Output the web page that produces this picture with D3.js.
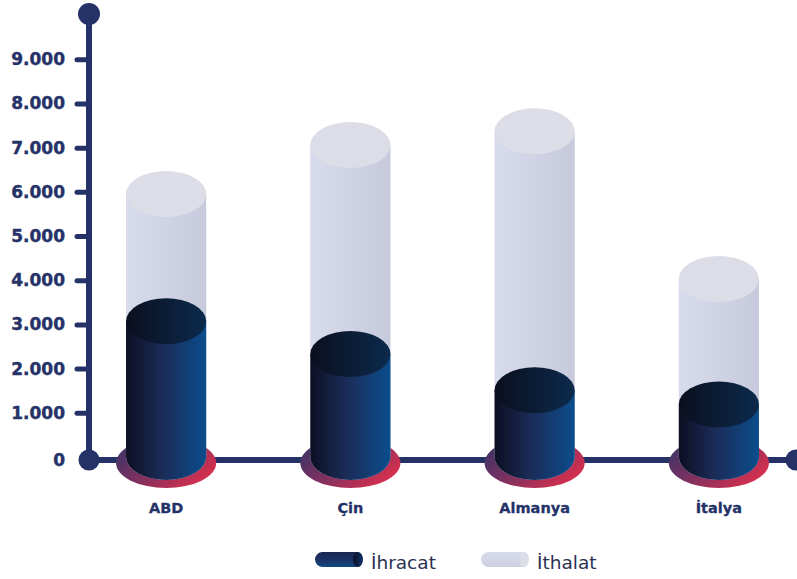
<!DOCTYPE html>
<html>
<head>
<meta charset="utf-8">
<script src="https://cdn.jsdelivr.net/npm/d3@7"></script>
<style>
  html, body { margin: 0; padding: 0; background: #ffffff; }
  svg { display: block; }
</style>
</head>
<body>
<svg id="chart" width="797" height="579"></svg>
<script>
// Country names, export / import values and y-axis ticks
const categories = ["ABD", "Çin", "Almanya", "İtalya"];
const ihracat = [3070, 2330, 1510, 1190];
const ithalat = [5950, 7060, 7370, 4030];
const tickValues = [0, 1000, 2000, 3000, 4000, 5000, 6000, 7000, 8000, 9000];
const seriesNames = ["İhracat", "İthalat"];

const NAVY = "#253268";
const W = 797, H = 579;
const svg = d3.select("#chart");

const trLocale = d3.formatLocale({ decimal: ",", thousands: ".", grouping: [3], currency: ["", "₺"] });
const fmt = trLocale.format(",d");

const x = d3.scaleBand().domain(categories).range([74, 811]).padding(0);
const y = d3.scaleLinear().domain([0, 9000]).range([457, 59.3]);

const cylW = x.bandwidth() * 0.435;
const rx = cylW / 2, ry = 23;
const baseY = y(0) + 3; // axis baseline

// gradients
const defs = svg.append("defs");
function lin(id, stops, x1 = 0, y1 = 0, x2 = 1, y2 = 0) {
  const g = defs.append("linearGradient").attr("id", id)
    .attr("x1", x1).attr("y1", y1).attr("x2", x2).attr("y2", y2);
  stops.forEach(([o, c]) => g.append("stop").attr("offset", o).attr("stop-color", c));
}
lin("darkBody", [[0, "#0c0f22"], [0.45, "#1b2c58"], [1, "#0b4d8c"]]);
lin("darkTop", [[0, "#0a0f1f"], [1, "#0c2a4c"]]);
lin("lightBody", [[0, "#d8dbec"], [1, "#c7cadc"]]);
lin("lightTop", [[0, "#dcdde6"], [1, "#dcdde6"]]);
lin("disc", [[0, "#3a3468"], [0.5, "#8a305e"], [1, "#e2304b"]], 0, 0.2, 1, 0.8);
lin("legDark", [[0, "#1a2550"], [0.6, "#1b3468"], [1, "#0d4a86"]], 0, 0, 0, 1);
lin("legDarkEnd", [[0, "#0b1024"], [1, "#11306a"]], 0, 0, 1, 0);
lin("legLight", [[0, "#d8dbec"], [1, "#cdd0e1"]], 0, 0, 0, 1);

// x axis line
svg.append("line")
  .attr("x1", 89).attr("x2", W + 10).attr("y1", baseY).attr("y2", baseY)
  .attr("stroke", NAVY).attr("stroke-width", 6);

// base discs under each column
svg.append("g").selectAll("ellipse").data(categories).join("ellipse")
  .attr("cx", d => x(d) + x.bandwidth() / 2)
  .attr("cy", baseY + 3)
  .attr("rx", rx + 10).attr("ry", ry + 2)
  .attr("fill", "url(#disc)");

function cylinderPath(cx, yTop, yBot) {
  const x0 = cx - rx, x1 = cx + rx;
  return `M${x0},${yTop} L${x0},${yBot} A${rx},${ry} 0 0 0 ${x1},${yBot} L${x1},${yTop} Z`;
}

function drawCylinders(values, bodyFill, topFill, cls) {
  const g = svg.append("g").attr("class", cls);
  const items = categories.map((c, i) => ({ c, v: values[i] }));
  g.selectAll("path").data(items).join("path")
    .attr("d", d => cylinderPath(x(d.c) + x.bandwidth() / 2, y(d.v), y(0)))
    .attr("fill", bodyFill);
  g.selectAll("ellipse").data(items).join("ellipse")
    .attr("cx", d => x(d.c) + x.bandwidth() / 2)
    .attr("cy", d => y(d.v))
    .attr("rx", rx).attr("ry", ry)
    .attr("fill", topFill);
}

drawCylinders(ithalat, "url(#lightBody)", "url(#lightTop)", "ithalat");
drawCylinders(ihracat, "url(#darkBody)", "url(#darkTop)", "ihracat");

// y axis
svg.append("line")
  .attr("x1", 89).attr("x2", 89).attr("y1", 14).attr("y2", baseY)
  .attr("stroke", NAVY).attr("stroke-width", 6);

const yAxis = d3.axisLeft(y).tickValues(tickValues.filter(v => v > 0))
  .tickSize(12).tickPadding(12).tickFormat(fmt);
const ga = svg.append("g").attr("transform", "translate(89,0)").call(yAxis);
ga.select(".domain").remove();
ga.selectAll(".tick line").attr("stroke", NAVY).attr("stroke-width", 5).attr("stroke-linecap", "round");
ga.selectAll(".tick text")
  .attr("fill", NAVY)
  .attr("font-family", "'DejaVu Sans', sans-serif")
  .attr("font-weight", "bold")
  .attr("font-size", 17)
  .attr("stroke", NAVY).attr("stroke-width", 0.4);

// zero label at the baseline
svg.append("text")
  .attr("x", 65).attr("y", baseY).attr("dy", "0.35em")
  .attr("text-anchor", "end")
  .attr("fill", NAVY)
  .attr("stroke", NAVY).attr("stroke-width", 0.4)
  .attr("font-family", "'DejaVu Sans', sans-serif")
  .attr("font-weight", "bold").attr("font-size", 17)
  .text(fmt(tickValues[0]));

// end dots
svg.append("circle").attr("cx", 89).attr("cy", 14).attr("r", 11).attr("fill", NAVY);
svg.append("circle").attr("cx", 89).attr("cy", baseY).attr("r", 10.5).attr("fill", NAVY);
svg.append("circle").attr("cx", 796).attr("cy", baseY).attr("r", 10.5).attr("fill", NAVY);

// category labels
svg.append("g").selectAll("text").data(categories).join("text")
  .attr("x", d => x(d) + x.bandwidth() / 2)
  .attr("y", 513)
  .attr("text-anchor", "middle")
  .attr("fill", NAVY)
  .attr("stroke", NAVY).attr("stroke-width", 0.3)
  .attr("font-family", "'DejaVu Sans', sans-serif")
  .attr("font-weight", "bold").attr("font-size", 14.5)
  .text(d => d);

// legend
const leg = svg.append("g");
function legendIcon(x0, fill, endFill) {
  const h = 15, w = 48, yTop = 552, r = h / 2, er = 5;
  leg.append("path")
    .attr("d", `M${x0 + r},${yTop} L${x0 + w - er},${yTop} L${x0 + w - er},${yTop + h} L${x0 + r},${yTop + h} A${r},${r} 0 0 1 ${x0 + r},${yTop} Z`)
    .attr("fill", fill);
  leg.append("ellipse").attr("cx", x0 + w - er).attr("cy", yTop + r).attr("rx", er).attr("ry", r)
    .attr("fill", endFill);
}
legendIcon(315, "url(#legDark)", "url(#legDarkEnd)");
legendIcon(481, "url(#legLight)", "#dcdfe8");
[[371, seriesNames[0]], [537, seriesNames[1]]].forEach(([lx, t]) => {
  leg.append("text").attr("x", lx).attr("y", 569)
    .attr("fill", "#2a3152")
    .attr("font-family", "'DejaVu Sans', sans-serif")
    .attr("font-size", 18.5)
    .text(t);
});
</script>
</body>
</html>
